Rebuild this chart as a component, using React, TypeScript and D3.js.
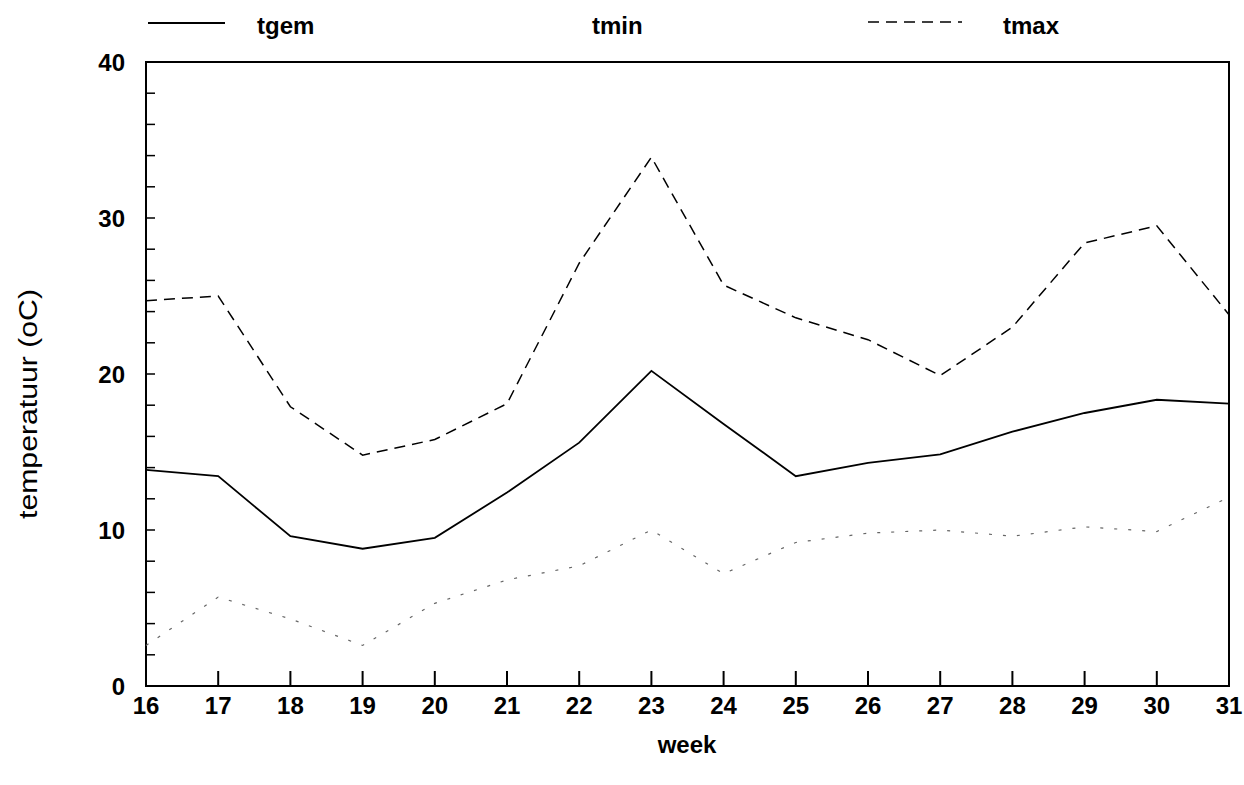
import React from "react";
import * as d3 from "d3";

const weeks = [16, 17, 18, 19, 20, 21, 22, 23, 24, 25, 26, 27, 28, 29, 30, 31];
const tgem = [13.85, 13.45, 9.6, 8.8, 9.5, 12.4, 15.6, 20.2, 16.8, 13.45, 14.3, 14.85, 16.3, 17.5, 18.35, 18.1];
const tmin = [2.6, 5.7, 4.3, 2.6, 5.3, 6.8, 7.7, 10.0, 7.2, 9.2, 9.8, 10.0, 9.6, 10.2, 9.9, 12.1];
const tmax = [24.7, 25.0, 17.9, 14.8, 15.8, 18.1, 27.1, 33.9, 25.7, 23.6, 22.2, 19.9, 23.0, 28.4, 29.5, 23.8];
const yTicks = [0, 10, 20, 30, 40];
const yMinorTicks = d3.range(0, 41, 2);
const legendLabels = ["tgem", "tmin", "tmax"];

const W = 1244;
const H = 785;
const L = 146, R = 1229, T = 62, B = 686;

export default function App() {
  const x = d3.scaleLinear().domain([16, 31]).range([L, R]);
  const y = d3.scaleLinear().domain([0, 40]).range([B, T]);
  const line = d3.line<number>().x((_, i) => x(weeks[i])).y((d) => y(d));
  const font = "'Liberation Sans', Arial, Helvetica, sans-serif";

  return (
    <svg width={W} height={H} style={{ position: "absolute", left: 0, top: 0, background: "#fff" }} fontFamily={font}>
      <rect x={0} y={0} width={W} height={H} fill="#fff" />
      {/* frame */}
      <rect x={L} y={T} width={R - L} height={B - T} fill="none" stroke="#000" strokeWidth={2} />
      {/* y ticks */}
      {yMinorTicks.map((t) => (
        <line key={"ym" + t} x1={L} x2={L + 9} y1={y(t)} y2={y(t)} stroke="#000" strokeWidth={1.5} />
      ))}
      {yTicks.map((t) => (
        <text key={"yl" + t} x={125} y={y(t) + 9} textAnchor="end" fontSize={24} fontWeight="bold" fill="#000">
          {t}
        </text>
      ))}
      {/* x ticks */}
      {weeks.map((w) => (
        <line key={"xt" + w} x1={x(w)} x2={x(w)} y1={B} y2={B - 15} stroke="#000" strokeWidth={2} />
      ))}
      {weeks.map((w) => (
        <text key={"xl" + w} x={x(w)} y={714} textAnchor="middle" fontSize={24} fontWeight="bold" fill="#000">
          {w}
        </text>
      ))}
      <text x={687} y={753} textAnchor="middle" fontSize={24} fontWeight="bold" fill="#000">week</text>
      <text transform={`translate(37,404) rotate(-90)`} textAnchor="middle" fontSize={25} fill="#000"
        textLength={230} lengthAdjust="spacingAndGlyphs">
        temperatuur (oC)
      </text>
      {/* series */}
      <path d={line(tmin) || ""} fill="none" stroke="#666" strokeWidth={1.2} strokeDasharray="3,11" />
      <path d={line(tmax) || ""} fill="none" stroke="#000" strokeWidth={1.5} strokeDasharray="11,7" />
      <path d={line(tgem) || ""} fill="none" stroke="#000" strokeWidth={1.8} />
      {/* legend */}
      <line x1={148} x2={225} y1={23} y2={23} stroke="#000" strokeWidth={1.8} />
      <text x={257} y={34} fontSize={24} fontWeight="bold" fill="#000">{legendLabels[0]}</text>
      <text x={592} y={34} fontSize={24} fontWeight="bold" fill="#000">{legendLabels[1]}</text>
      <line x1={868} x2={962} y1={22} y2={22} stroke="#000" strokeWidth={1.5} strokeDasharray="11,7" />
      <text x={1003} y={34} fontSize={24} fontWeight="bold" fill="#000">{legendLabels[2]}</text>
    </svg>
  );
}
